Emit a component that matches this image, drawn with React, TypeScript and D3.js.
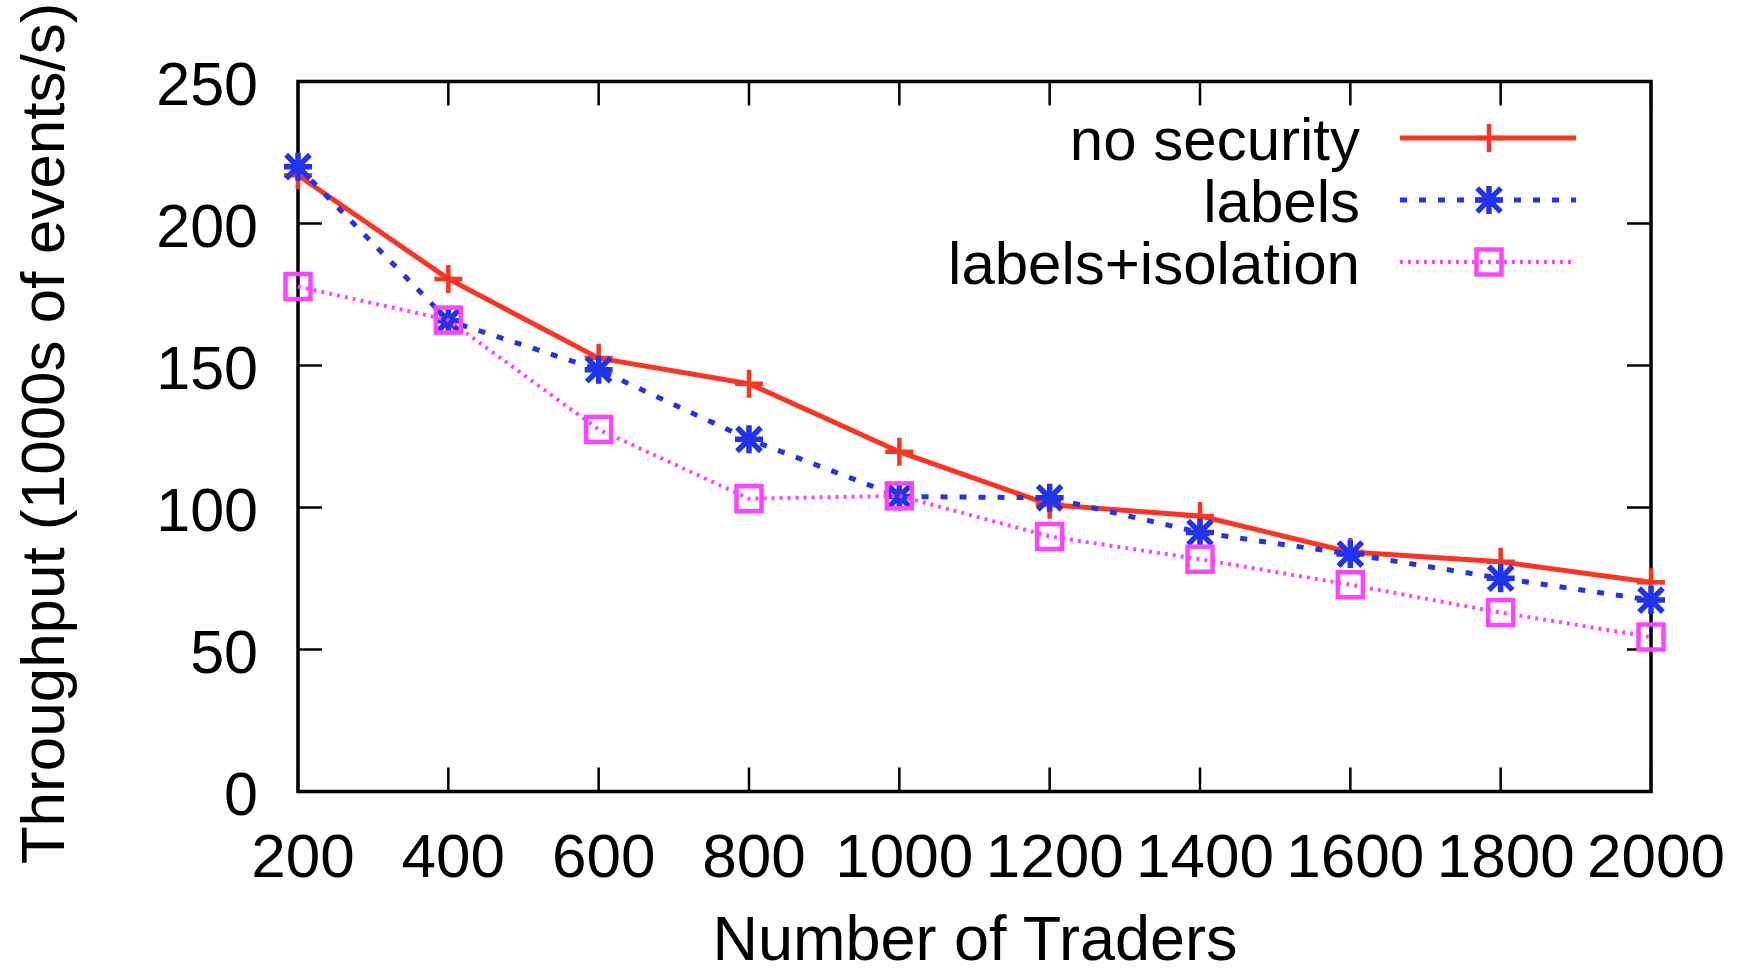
import React from 'react'
import * as d3 from 'd3'

const traders = [200, 400, 600, 800, 1000, 1200, 1400, 1600, 1800, 2000]
const noSecurity = [217, 180.5, 152.6, 143.6, 119.6, 101, 97, 84.3, 80.9, 73.7]
const labelsOnly = [220, 165.8, 148.5, 124, 103.9, 103.4, 91.2, 83.6, 75.1, 67.4]
const labelsIsolation = [177.8, 166, 127.5, 103.1, 104.1, 89.8, 81.8, 72.8, 63, 54.4]
const yTicks = [0, 50, 100, 150, 200, 250]
const xTicks = traders

const seriesNames = ['no security', 'labels', 'labels+isolation']

const width = 1744
const height = 972
const margin = { top: 81.5, right: 93, bottom: 180.5, left: 298 }
const font = '"Liberation Sans", Arial, Helvetica, sans-serif'

const series = [
  { name: seriesNames[0], values: noSecurity, color: '#ff3322', width: 5, dash: null, marker: 'plus' },
  { name: seriesNames[1], values: labelsOnly, color: '#2233ee', width: 5, dash: '7 12', marker: 'star' },
  { name: seriesNames[2], values: labelsIsolation, color: '#ff44ff', width: 4, dash: '3 5', marker: 'square' },
]

const Marker = ({ type, x, y, color }: { type: string; x: number; y: number; color: string }) => {
  const s = 14
  if (type === 'plus') {
    return (
      <path d={`M${x - s},${y}H${x + s}M${x},${y - s}V${y + s}`} stroke={color} strokeWidth={4.5} fill="none" />
    )
  }
  if (type === 'star') {
    const d = s * 0.85
    return (
      <path
        d={`M${x - s},${y}H${x + s}M${x},${y - s}V${y + s}M${x - d},${y - d}L${x + d},${y + d}M${x - d},${y + d}L${x + d},${y - d}`}
        stroke={color}
        strokeWidth={5.5}
        fill="none"
      />
    )
  }
  const h = 12.5
  return <rect x={x - h} y={y - h} width={h * 2} height={h * 2} stroke={color} strokeWidth={4.5} fill="none" />
}

const App = () => {
  const x = d3.scaleLinear().domain([200, 2000]).range([margin.left, width - margin.right])
  const y = d3.scaleLinear().domain([0, 250]).range([height - margin.bottom, margin.top])
  const line = d3
    .line<number>()
    .x((_, i) => x(traders[i]))
    .y(d => y(d))

  const left = x(200)
  const right = x(2000)
  const top = y(250)
  const bottom = y(0)
  const tick = 24

  // legend layout
  const legendTextX = 1360
  const legendLineX0 = 1400
  const legendLineX1 = 1576
  const legendMarkX = 1489
  const legendY = [138, 200, 262]

  return (
    <svg
      width={width}
      height={height}
      style={{ position: 'absolute', left: 0, top: 0, background: '#fff' }}
      fontFamily={font}
    >
      <rect width={width} height={height} fill="#fff" />

      {/* ticks */}
      {yTicks.map(t => (
        <g key={'y' + t}>
          <line x1={left} x2={left + tick} y1={y(t)} y2={y(t)} stroke="#000" strokeWidth={2.5} />
          <line x1={right} x2={right - tick} y1={y(t)} y2={y(t)} stroke="#000" strokeWidth={2.5} />
          <text x={258} y={y(t) + 23} fontSize={61} textAnchor="end" fill="#000">
            {t}
          </text>
        </g>
      ))}
      {xTicks.map(t => (
        <g key={'x' + t}>
          <line x1={x(t)} x2={x(t)} y1={bottom} y2={bottom - tick} stroke="#000" strokeWidth={2.5} />
          <line x1={x(t)} x2={x(t)} y1={top} y2={top + tick} stroke="#000" strokeWidth={2.5} />
          <text x={x(t) + 5} y={877} fontSize={62} textAnchor="middle" fill="#000">
            {t}
          </text>
        </g>
      ))}

      <rect x={left} y={top} width={right - left} height={bottom - top} fill="none" stroke="#000" strokeWidth={3.5} />

      {/* axis titles */}
      <text x={975} y={960} fontSize={63} textAnchor="middle" fill="#000">
        Number of Traders
      </text>
      <text
        transform={`translate(64,${(top + bottom) / 2 - 3}) rotate(-90)`}
        fontSize={62}
        textAnchor="middle"
        fill="#000"
      >
        Throughput (1000s of events/s)
      </text>

      {/* series */}
      {series.map(s => (
        <g key={s.name}>
          <path
            d={line(s.values) || ''}
            fill="none"
            stroke={s.color}
            strokeWidth={s.width}
            strokeDasharray={s.dash || undefined}
            strokeLinejoin="round"
          />
          {s.values.map((v, i) => (
            <Marker key={i} type={s.marker} x={x(traders[i])} y={y(v)} color={s.color} />
          ))}
        </g>
      ))}

      {/* legend */}
      {series.map((s, i) => (
        <g key={'lg' + s.name}>
          <text x={legendTextX} y={legendY[i] + 22} fontSize={60} textAnchor="end" fill="#000">
            {s.name}
          </text>
          <line
            x1={legendLineX0}
            x2={legendLineX1}
            y1={legendY[i]}
            y2={legendY[i]}
            stroke={s.color}
            strokeWidth={s.width}
            strokeDasharray={s.dash || undefined}
          />
          <Marker type={s.marker} x={legendMarkX} y={legendY[i]} color={s.color} />
        </g>
      ))}
    </svg>
  )
}

export default App
